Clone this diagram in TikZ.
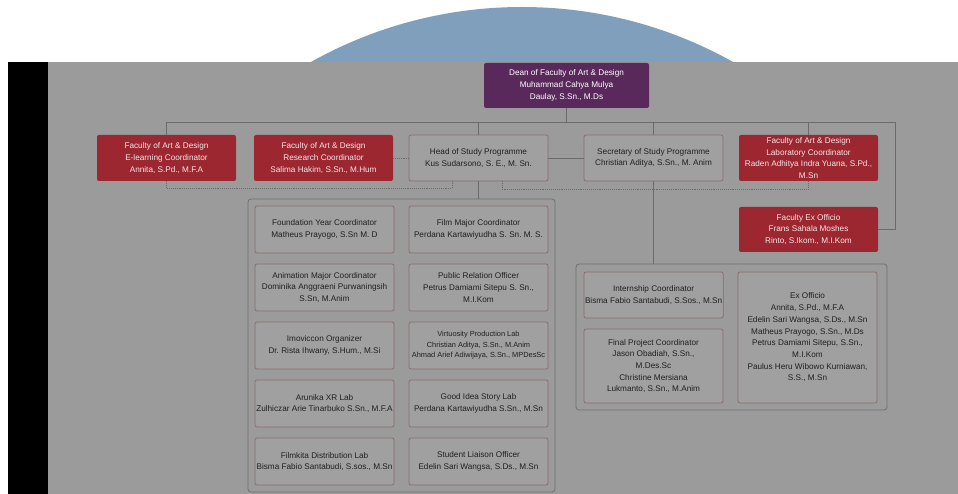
\documentclass[tikz,border=0pt]{standalone}
\usepackage{fontspec}
\setmainfont{Liberation Sans}
\frenchspacing

\definecolor{slidegray}{HTML}{9B9B9B}
\definecolor{circblue}{HTML}{7F9FBC}
\definecolor{deanpurple}{HTML}{5A295C}
\definecolor{boxred}{HTML}{9D2730}
\definecolor{redtext}{HTML}{F3E6E6}
\definecolor{boxfill}{HTML}{A1A0A0}
\definecolor{boxedge}{HTML}{8A6C6C}
\definecolor{boxtext}{HTML}{202020}
\definecolor{groupedge}{HTML}{6E6E6E}
\definecolor{linegray}{HTML}{6B6B6B}

\tikzset{
  card/.style={anchor=north west, rounded corners=2pt, minimum width=139pt,
               inner sep=1pt, outer sep=0pt, align=center,
               font=\fontsize{8.2}{11.7}\selectfont},
  deanbox/.style={card, fill=deanpurple, text=white},
  redbox/.style={card, fill=boxred, text=redtext},
  greybox/.style={card, draw=boxedge, fill=boxfill, text=boxtext, line width=0.8pt},
  groupbox/.style={anchor=north west, draw=groupedge, line width=0.8pt,
                   rounded corners=3pt, inner sep=0pt, outer sep=0pt},
  link/.style={draw=linegray, line width=0.8pt},
  dotlink/.style={draw=linegray, line width=0.9pt, densely dotted}
}

\begin{document}
\begin{tikzpicture}[x=1pt,y=-1pt]
  \useasboundingbox (0,0) rectangle (958,494);
  % slide behind
  \begin{scope}
    \clip (0,0) rectangle (958,62);
    \fill[circblue] (522,439) circle (432);
  \end{scope}
  \fill[black] (8,62) rectangle (48,494);
  \fill[slidegray] (48,62) rectangle (958,494);

  % group frames
  \node[groupbox, minimum width=307pt, minimum height=293pt] (leftgrp) at (248,199) {};
  \node[groupbox, minimum width=311pt, minimum height=146pt] (rightgrp) at (576,264) {};

  % top level
  \node[deanbox, minimum width=165pt, minimum height=45pt] (dean) at (484,63)
    {Dean of Faculty of Art \& Design\\Muhammad Cahya Mulya\\Daulay, S.Sn., M.Ds};
  \node[redbox, minimum height=46pt] (elearn) at (97,135)
    {Faculty of Art \& Design\\E-learning Coordinator\\Annita, S.Pd., M.F.A};
  \node[redbox, minimum height=46pt] (research) at (254,135)
    {Faculty of Art \& Design\\Research Coordinator\\Salima Hakim, S.Sn., M.Hum};
  \node[greybox, minimum height=46pt] (head) at (409,135)
    {Head of Study Programme\\Kus Sudarsono, S. E., M. Sn.};
  \node[greybox, minimum height=46pt] (sec) at (584,135)
    {Secretary of Study Programme\\Christian Aditya, S.Sn., M. Anim};
  \node[redbox, minimum height=46pt] (lab) at (739,135)
    {Faculty of Art \& Design\\Laboratory Coordinator\\Raden Adhitya Indra Yuana, S.Pd.,\\M.Sn};
  \node[redbox, minimum height=45pt] (exoff) at (739,207)
    {Faculty Ex Officio\\Frans Sahala Moshes\\Rinto, S.Ikom., M.I.Kom};

  % study programme units
  \foreach \nm/\px/\py/\txt in {
      found/255/206/{Foundation Year Coordinator\\Matheus Prayogo, S.Sn M. D},
      film/409/206/{Film Major Coordinator\\Perdana Kartawiyudha S. Sn. M. S.},
      anim/255/264/{Animation Major Coordinator\\Dominika Anggraeni Purwaningsih\\S.Sn, M.Anim},
      pr/409/264/{Public Relation Officer\\Petrus Damiami Sitepu S. Sn.,\\M.I.Kom},
      imov/255/322/{Imoviccon Organizer\\Dr. Rista Ihwany, S.Hum., M.Si},
      arun/255/380/{Arunika XR Lab\\Zulhiczar Arie Tinarbuko S.Sn., M.F.A},
      idea/409/380/{Good Idea Story Lab\\Perdana Kartawiyudha S.Sn., M.Sn},
      fkita/255/438/{Filmkita Distribution Lab\\Bisma Fabio Santabudi, S.sos., M.Sn},
      liaison/409/438/{Student Liaison Officer\\Edelin Sari Wangsa, S.Ds., M.Sn}} {
    \node[greybox, minimum height=47pt] (\nm) at (\px,\py) {\txt};
  }
  \node[greybox, minimum height=47pt, font=\fontsize{7.4}{10.5}\selectfont] (virt) at (409,322)
    {Virtuosity Production Lab\\Christian Aditya, S.Sn., M.Anim\\Ahmad Arief Adiwijaya, S.Sn., MPDesSc};

  \node[greybox, minimum height=46pt] (intern) at (584,272)
    {Internship Coordinator\\Bisma Fabio Santabudi, S.Sos., M.Sn};
  \node[greybox, minimum height=74pt] (final) at (584,329)
    {Final Project Coordinator\\Jason Obadiah, S.Sn.,\\M.Des.Sc\\Christine Mersiana\\Lukmanto, S.Sn., M.Anim};
  \node[greybox, minimum height=131pt] (exof) at (738,272)
    {Ex Officio\\Annita, S.Pd., M.F.A\\Edelin Sari Wangsa, S.Ds., M.Sn\\Matheus Prayogo, S.Sn., M.Ds\\Petrus Damiami Sitepu, S.Sn.,\\M.I.Kom\\Paulus Heru Wibowo Kurniawan,\\S.S., M.Sn};

  % connectors
  \coordinate (bus) at (895,122);
  \coordinate (dotL) at (452,188);
  \coordinate (dotR) at (502,189);
  \draw[link] (dean.south) -- (dean.south |- bus);
  \draw[link] (elearn.north) |- (bus) |- (exoff.east);
  \draw[link] (head.north) -- (head.north |- bus);
  \draw[link] (sec.north) -- (sec.north |- bus);
  \draw[link] (lab.north) -- (lab.north |- bus);
  \draw[link] (head.east) -- (sec.west);
  \draw[link] (head.south) -- (head.south |- leftgrp.north);
  \draw[link] (sec.south) -- (sec.south |- rightgrp.north);
  \draw[dotlink] (research.east) -- (head.west);
  \draw[dotlink] (elearn.south) |- (dotL) -- (dotL |- head.south);
  \draw[dotlink] (dotR |- head.south) -- (dotR) -| (lab.south);
\end{tikzpicture}
\end{document}
